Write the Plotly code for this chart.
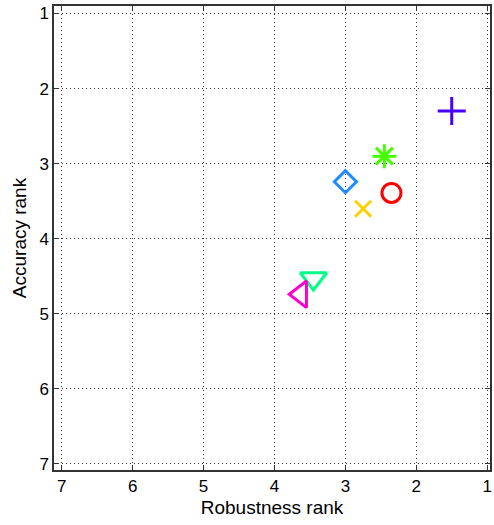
import plotly.graph_objects as go

methods = ["plus", "asterisk", "diamond", "circle", "cross", "tri_down", "tri_left"]
robustness_rank = [1.5, 2.45, 3.0, 2.35, 2.75, 3.45, 3.63]
accuracy_rank = [2.3, 2.9, 3.24, 3.39, 3.6, 4.53, 4.74]
symbols = ["cross-thin-open", "asterisk-open", "diamond-open", "circle-open",
           "x-thin-open", "triangle-down-open", "triangle-left-open"]
colors = ["#4a00ff", "#44ff00", "#1e8cff", "#ff0000", "#ffd000", "#00ff88", "#ff00cc"]
sizes = [20, 20, 17, 19, 16, 23, 23]
ticks = [1, 2, 3, 4, 5, 6, 7]

FONT = "Liberation Sans, Arial"

fig = go.Figure()
for i in range(len(methods)):
    fig.add_trace(go.Scatter(
        x=[robustness_rank[i]], y=[accuracy_rank[i]], mode="markers", name=methods[i],
        marker=dict(symbol=symbols[i], size=sizes[i], color=colors[i],
                    line=dict(width=3, color=colors[i])),
        showlegend=False))

axis_common = dict(
    tickvals=ticks, showgrid=True, gridcolor="#333333", griddash="1px,3px", gridwidth=1,
    showline=True, linecolor="#333333", linewidth=1.5, mirror="ticks",
    ticks="inside", ticklen=5, tickcolor="#333333", zeroline=False, automargin=False,
    tickfont=dict(family=FONT, size=17, color="black"),
)
fig.update_xaxes(range=[7.11, 0.96], title=dict(text="Robustness rank", standoff=6,
                 font=dict(family=FONT, size=19, color="black")), **axis_common)
fig.update_yaxes(range=[7.08, 0.9], title=dict(text="Accuracy rank", standoff=8,
                 font=dict(family=FONT, size=19, color="black")), **axis_common)
fig.update_layout(width=494, height=525, margin=dict(l=54, r=4, t=6, b=55),
                  plot_bgcolor="white", paper_bgcolor="white")
fig.write_html("out.html", config={"displayModeBar": False},
               post_script="document.body.style.margin='0px';")
